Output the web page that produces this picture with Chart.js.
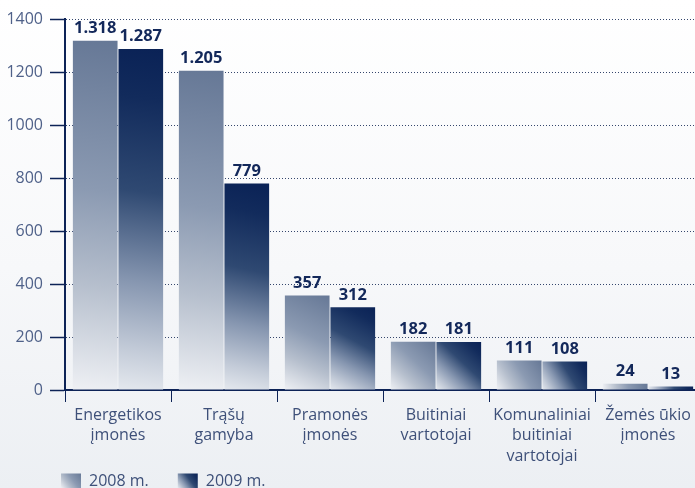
<!DOCTYPE html>
<html>
<head>
<meta charset="utf-8">
<script src="https://cdn.jsdelivr.net/npm/chart.js@4.4.1/dist/chart.umd.min.js"></script>
<style>
  html, body { margin: 0; padding: 0; overflow: hidden; }
  body { width: 695px; height: 488px; background: linear-gradient(#ffffff 0%, #f7f8fa 55%, #eceff3 100%); }
  #wrap { width: 710px; height: 488px; position: relative; }
</style>
</head>
<body>
<div id="wrap"><canvas id="chart1"></canvas></div>
<script>
// categories (two-line labels as on the x axis)
const categories = [
  ['Energetikos', 'įmonės'],
  ['Trąšų', 'gamyba'],
  ['Pramonės', 'įmonės'],
  ['Buitiniai', 'vartotojai'],
  ['Komunaliniai', 'buitiniai', 'vartotojai'],
  ['Žemės ūkio', 'įmonės']
];
const seriesNames = ['2008 m.', '2009 m.'];
const values2008 = [1318, 1205, 357, 182, 111, 24];
const values2009 = [1287, 779, 312, 181, 108, 13];
const yTicks = [0, 200, 400, 600, 800, 1000, 1200, 1400];

const navy = '#0d2357';
const textCol = '#3e5079';
const EXTRA = 70; // room below the axis so 3-line labels are not clipped

// gradient stops, 0 = bottom-left of bar, 1 = top-right
const stops2008 = [[0, '#eef0f4'], [0.3, '#b6bfcd'], [0.57, '#8b9ab2'], [1, '#667896']];
const stops2009 = [[0, '#e4e8ee'], [0.12, '#c3cbd8'], [0.32, '#8696b0'], [0.58, '#2f4972'], [0.85, '#122b5c'], [1, '#0a2256']];

function fmt(n) {
  return String(n).replace(/\B(?=(\d{3})+(?!\d))/g, '.');
}

function makeGrad(ctx, x0, y0, x1, y1, stops) {
  const g = ctx.createLinearGradient(x0, y0, x1, y1);
  stops.forEach(s => g.addColorStop(s[0], s[1]));
  return g;
}

function barFill(stops) {
  return function(c) {
    const el = c.element;
    const chart = c.chart;
    if (!el || !chart.chartArea || !el.width) return stops[stops.length - 1][1];
    const left = el.x - el.width / 2;
    const right = el.x + el.width / 2;
    return makeGrad(chart.ctx, left, el.base, right, el.y, stops);
  };
}

// numbers above each bar
const valueLabels = {
  id: 'valueLabels',
  afterDatasetsDraw(chart) {
    const ctx = chart.ctx;
    ctx.save();
    ctx.font = 'bold 16.5px "Open Sans"';
    ctx.fillStyle = '#13285a';
    ctx.textAlign = 'center';
    ctx.textBaseline = 'bottom';
    chart.data.datasets.forEach((ds, i) => {
      chart.getDatasetMeta(i).data.forEach((bar, j) => {
        ctx.fillText(fmt(ds.data[j]), bar.x, bar.y - 4);
      });
    });
    ctx.restore();
  }
};

// move legend to the bottom-left corner and give boxes their gradients
const legendPlace = {
  id: 'legendPlace',
  afterLayout(chart) {
    const lg = chart.legend;
    const h = lg.bottom - lg.top;
    lg.left = 32;
    lg.top = 444;
    lg.bottom = lg.top + h;
  },
  beforeDraw(chart) {
    const lg = chart.legend;
    if (!lg.legendItems || !lg.legendHitBoxes) return;
    lg.legendItems.forEach((item, i) => {
      const hb = lg.legendHitBoxes[i];
      if (!hb) return;
      const st = i === 0 ? stops2008 : stops2009;
      item.fillStyle = makeGrad(chart.ctx, hb.left, hb.top + 15, hb.left + 20, hb.top, st);
      item.lineWidth = 0;
    });
  }
};

const ctx1 = document.getElementById('chart1').getContext('2d');
const GasChart = new Chart(ctx1, {
  type: 'bar',
  data: {
    labels: categories,
    datasets: [
      {
        label: seriesNames[0],
        data: values2008,
        backgroundColor: barFill(stops2008),
        borderWidth: 0,
        categoryPercentage: 0.86,
        barPercentage: 0.98
      },
      {
        label: seriesNames[1],
        data: values2009,
        backgroundColor: barFill(stops2009),
        borderWidth: 0,
        categoryPercentage: 0.86,
        barPercentage: 0.98
      }
    ]
  },
  options: {
    responsive: true,
    maintainAspectRatio: false,
    animation: false,
    layout: { padding: { top: 19, right: 9, left: 0, bottom: -EXTRA } },
    scales: {
      x: {
        grid: {
          offset: true,
          drawOnChartArea: false,
          drawTicks: true,
          tickLength: 12,
          tickColor: navy,
          tickWidth: 1
        },
        border: { color: navy, width: 2 },
        ticks: {
          color: textCol,
          font: { family: 'Open Sans', size: 16, lineHeight: 1.28 },
          padding: 3,
          maxRotation: 0,
          autoSkip: false
        },
        afterFit(s) {
          s.height = 488 - 390 - s.chart.legend.height + EXTRA;
        }
      },
      y: {
        min: 0,
        max: 1400,
        afterBuildTicks(s) {
          s.ticks = yTicks.map(v => ({ value: v }));
        },
        grid: {
          color: '#35466c',
          lineWidth: 1,
          drawTicks: true,
          tickLength: 15,
          tickColor: navy,
          tickWidth: 1.5,
          tickBorderDash: []
        },
        border: { color: navy, width: 2, dash: [1, 2] },
        ticks: {
          color: '#4f6189',
          font: { family: 'Open Sans', size: 16 },
          padding: 7,
          callback: v => String(v)
        },
        afterFit(s) {
          s.width = 65;
        }
      }
    },
    plugins: {
      legend: {
        display: true,
        position: 'bottom',
        align: 'start',
        labels: {
          boxWidth: 20,
          boxHeight: 15,
          padding: 29,
          color: textCol,
          font: { family: 'Open Sans', size: 16 }
        }
      },
      tooltip: { enabled: false }
    }
  },
  plugins: [valueLabels, legendPlace]
});
// second pass so the bar gradients know where each bar sits
GasChart.update('none');
</script>
</body>
</html>
